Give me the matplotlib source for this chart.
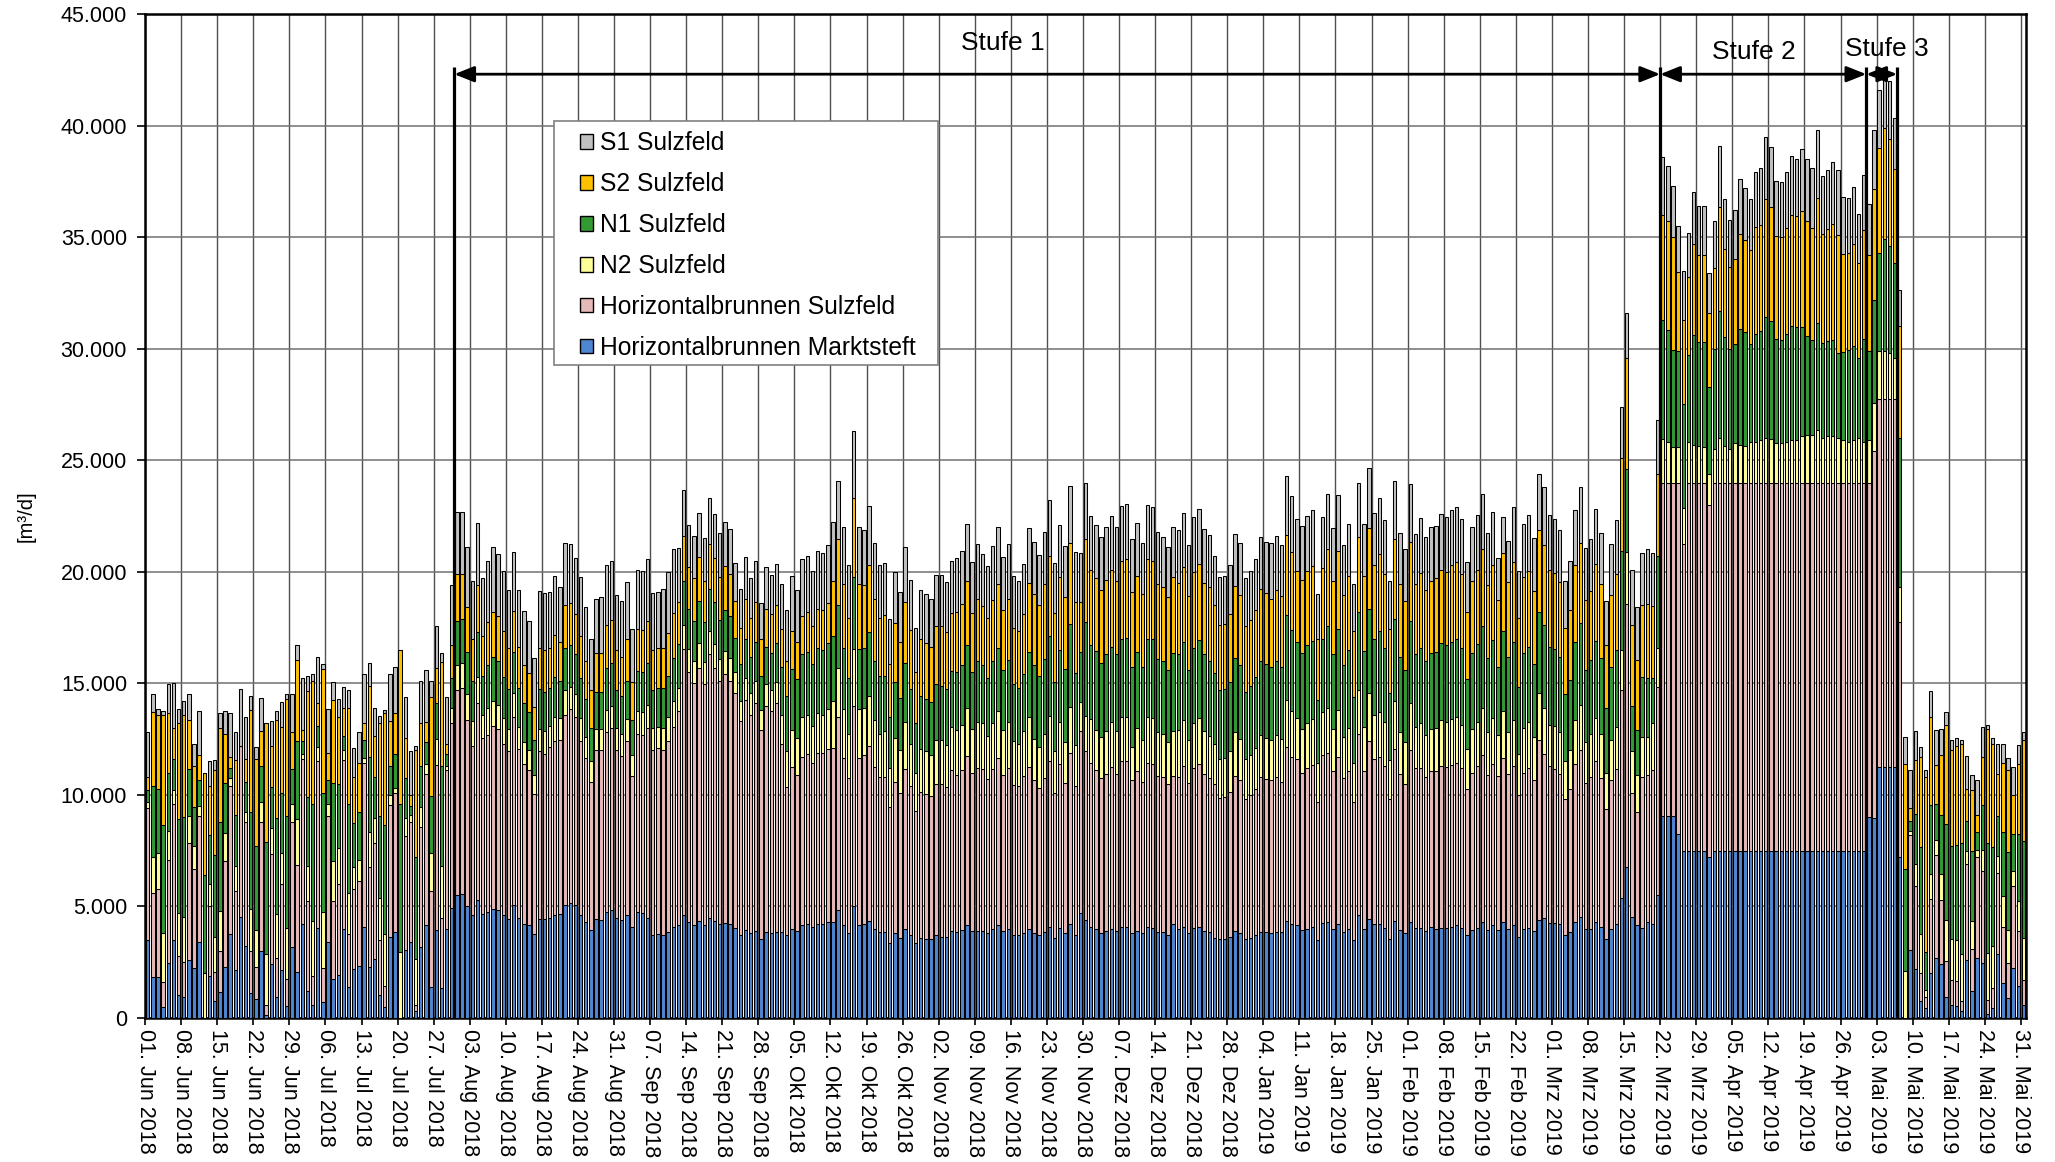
import datetime as dt
import numpy as np
import matplotlib
matplotlib.use("Agg")
import matplotlib.pyplot as plt
from matplotlib.patches import Patch, Rectangle

plt.rcParams['font.family'] = ['Liberation Sans', 'DejaVu Sans']

# ---------------- data (m³/d per day, 01.06.2018 - 31.05.2019) ----------------
start_date = dt.date(2018, 6, 1)
n_days = 365

marktsteft = [
    3500, 1850, 1850, 500, 2450, 3500, 1050, 950, 2600, 2250,
    3400, 0, 1900, 750, 1150, 2300, 3750, 2150, 4550, 3250,
    1100, 850, 3000, 150, 2400, 950, 2150, 550, 3200, 2050,
    4200, 1200, 600, 4050, 700, 3400, 1750, 1950, 4000, 1400,
    2200, 2350, 4100, 2300, 2650, 1050, 500, 3650, 3850, 0,
    3050, 3400, 300, 3200, 4150, 1400, 3950, 1350, 4000, 4950,
    5500, 5550, 5000, 4600, 5300, 4650, 4750, 4900, 4850, 4600,
    4450, 5050, 4500, 4200, 4150, 3750, 4450, 4450, 4500, 4600,
    4650, 5050, 5150, 5050, 4600, 4300, 3950, 4450, 4400, 4750,
    4850, 4500, 4400, 4600, 4100, 4750, 4700, 4500, 3700, 3750,
    3700, 3850, 4100, 4150, 4600, 4300, 4150, 4350, 4150, 4500,
    4350, 4200, 4250, 4200, 4050, 3700, 3950, 3800, 3900,
    3550, 3850, 3800, 3850, 3850, 3700, 4000, 3900, 4150, 4200,
    4100, 4200, 4200, 4300, 4300, 4850, 4150, 3800, 5000, 4150,
    4200, 4350, 4000, 3850, 3850, 3350, 3800, 3600, 4000, 3700,
    3350, 3600, 3550, 3550, 3700, 3650, 3650, 3900, 3850, 3950,
    4150, 3900, 3900, 3900, 3800, 4000, 4150, 3900, 4000, 3700,
    3700, 3800, 4000, 3800, 3700, 3850, 4100, 3600,
    4050, 3800, 4200, 3700, 4700, 4400, 4100, 4000, 3800, 3900,
    4000, 3900, 4100, 4100, 3800, 3900, 3800, 4100, 4050, 3850,
    3850, 3700, 4200, 4000, 4100, 3800, 4050, 4100, 3900,
    3850,
    3600, 3550, 3550, 3650, 3900, 3800, 3550, 3600, 3700, 3850,
    3850, 3800, 3850, 3850, 4350, 4200, 4150, 3950, 4000, 4100,
    3500, 4250, 4300, 4000, 4200, 3850, 4000, 3500, 4600,
    4000, 4450, 4200, 4200, 4050, 3550, 4350, 3950, 3800, 4300,
    4050, 4050, 3900, 4100, 4000, 4050, 4050, 4100, 4150, 4050,
    3700, 3950, 4050, 4300, 3950, 4150, 3950, 4300, 4000, 4150,
    3650, 4000, 4050, 3900, 4400, 4500, 4250, 4250, 4200, 3700,
    3850, 4300, 4550, 4000, 4000, 4300, 4100, 3550, 4000, 4200,
    5400, 6750, 4550, 4150, 4050, 4300, 4200, 5500,
    9050, 9050, 9050, 8250, 7500, 7500, 7500, 7500, 7500, 7200,
    7500, 7500, 7500, 7500, 7500, 7500, 7500, 7500, 7500, 7500,
    7500, 7500, 7500, 7500, 7500, 7500, 7500, 7500, 7500, 7500,
    7500, 7500, 7500, 7500, 7500, 7500, 7500, 7500, 7500, 7500,
    9000, 8950, 11250, 11250, 11250, 11250, 7200,
    0, 3050, 2200, 750, 450, 2000, 2700, 2400, 950, 600,
    550, 300, 2600, 1200, 2700, 2450, 200, 450, 2850, 1550,
    900, 2250, 1450, 600,
]

hb_sulzfeld = [
    5900, 3750, 3950, 1100, 4650, 6100, 1750, 1550, 5250, 4450,
    5650, 0, 3100, 1300, 1850, 4750, 6650, 3550, 7650, 5550,
    1900, 1450, 5800, 450, 4950, 1750, 3850, 1200, 5600, 4800,
    7400, 4050, 1300, 7450, 1550, 5650, 3500, 4050, 7550, 2350,
    3600, 3800, 7350, 4450, 5200, 2450, 950, 5900, 6250, 0,
    5100, 5400, 300, 5350, 6800, 4300, 7400, 3150, 7100, 8250,
    9200, 9250, 8350, 7600, 8800, 7900, 7950, 8200, 8100, 7700,
    7500, 8450, 7550, 7200, 6950, 6300, 7500, 7400, 7650, 7800,
    7800, 8550, 8700, 8450, 7800, 7350, 6650, 7550, 7600, 8050,
    8150, 7500, 7350, 7800, 6750, 8000, 8000, 8500, 8300, 8350,
    8300, 8550, 8950, 9600, 11950, 11200, 10850, 11350, 10800, 11800,
    11350, 10900, 11150, 10900, 10500, 9600, 10300, 9800, 10200,
    9350, 10150, 9950, 10250, 8450, 6650, 7250, 7000, 7550, 7650,
    7350, 7700, 7700, 7750, 7800, 8650, 7500, 6950, 9000, 7500,
    7600, 7850, 7250, 6950, 6950, 6100, 6800, 6500, 7150, 6700,
    5950, 6550, 6500, 6400, 6800, 6850, 6700, 7200, 7050, 7150,
    7600, 7100, 7300, 7250, 6900, 7150, 7500, 7000, 7200, 6750,
    6700, 7050, 7250, 6850, 6600, 6900, 7400, 6500,
    7350, 6750, 7700, 6700, 8150, 7550, 7350, 7100, 6950, 7050,
    7250, 7050, 7400, 7400, 6850, 7150, 6800, 7350, 7350, 7000,
    6950, 6800, 6650, 6800, 7200, 6750, 7150, 7300, 7050,
    6900,
    6900, 6300, 6350, 6500, 6950, 6850, 6250, 6400, 6550, 6950,
    6850, 6850, 6950, 6750, 7800, 7500, 7450, 7050, 7200, 7250,
    6200, 7550, 7600, 7050, 7500, 6900, 7050, 6200, 8150,
    7050, 7950, 7400, 7500, 7250, 6250, 7700, 7000, 6700, 7700,
    7150, 7150, 6900, 6950, 7050, 7250, 7200, 7250, 7300, 7150,
    6550, 7050, 7250, 7500, 6950, 7250, 6900, 7350, 6950, 7150,
    6350, 7000, 7150, 6750, 8050, 7350, 7050, 6900, 6750, 6100,
    6400, 7100, 7450, 6550, 6800, 7200, 6650, 5800, 6650, 6950,
    9300, 11800, 5550, 5100, 6750, 6600, 6900, 9350,
    14950, 14950, 14950, 15750, 13750, 16500, 16500, 16500, 16500, 15800,
    16500, 16500, 16500, 16500, 16500, 16500, 16500, 16500, 16500, 16500,
    16500, 16500, 16500, 16500, 16500, 16500, 16500, 16500, 16500, 16500,
    16500, 16500, 16500, 16500, 16500, 16500, 16500, 16500, 16500, 16500,
    15000, 16450, 16500, 16500, 16500, 16500, 10550,
    0, 5150, 3700, 1250, 500, 3350, 4600, 2900, 1600, 1100,
    1100, 450, 4300, 1900, 4500, 4150, 600, 900, 3650, 2550,
    1550, 3650, 2450, 1100,
]

n2_sulzfeld = [
    300, 1600, 1600, 2200, 1300, 600, 1900, 2050, 1200, 1000,
    450, 2000, 1000, 1600, 1800, 1250, 350, 1100, 0, 450,
    1900, 1650, 900, 2250, 1150, 1950, 1400, 2300, 800, 2050,
    250, 1550, 2450, 650, 2500, 550, 1800, 1600, 450, 1850,
    950, 950, 200, 1600, 1100, 1900, 2300, 450, 200, 2950,
    800, 300, 2050, 900, 450, 1700, 1150, 2300, 200, 700,
    1100, 1100, 1150, 1100, 1200, 1050, 1200, 1100, 1100, 1150,
    1000, 1050, 1000, 950, 900, 850, 1000, 1000, 950, 1100,
    1000, 1100, 1000, 1000, 1050, 950, 900, 950, 950, 1000,
    1000, 1000, 1000, 1000, 950, 1000, 1000, 1050, 1000, 950,
    1000, 1100, 1150, 1050, 1050, 1050, 1000, 1100, 1000, 1050,
    1050, 1000, 1050, 1050, 950, 900, 1000, 950, 1000,
    900, 950, 950, 950, 1300, 1600, 1650, 1650, 1800, 1750,
    1650, 1750, 1700, 1800, 2100, 2200, 2200, 2000, 2550, 2200,
    2100, 2250, 2100, 1950, 2050, 1750, 1950, 1900, 2100, 1900,
    1700, 1900, 1900, 1850, 1950, 1950, 1900, 1950, 2000, 2050,
    2150, 1950, 2050, 2050, 1950, 2050, 2100, 2000, 2050, 1950,
    1900, 2000, 2250, 1850, 1850, 2000, 2050, 1850,
    1850, 1800, 2050, 1850, 1300, 1600, 1950, 1800, 1850, 1900,
    2000, 1900, 2000, 2000, 1500, 1950, 1850, 2050, 2050, 1950,
    1950, 1850, 2000, 2100, 2050, 1900, 2000, 2050, 1900,
    1900,
    1800, 1750, 1750, 1800, 1950, 1850, 1800, 1800, 1850, 1900,
    1850, 1800, 1900, 1900, 2100, 2050, 1850, 1950, 2000, 2050,
    1750, 1900, 2000, 1900, 2100, 1850, 1950, 1750, 1950,
    2000, 2150, 2000, 2000, 1950, 1750, 2150, 1850, 1850, 2100,
    1850, 2000, 1900, 1900, 1950, 2050, 2000, 2050, 2050, 1950,
    1800, 1950, 1950, 2100, 1900, 2050, 1850, 2100, 1850, 2050,
    1850, 2000, 2050, 1950, 2100, 2050, 1850, 1950, 1850, 1700,
    1750, 1950, 2050, 1800, 1950, 1950, 2000, 1650, 1800, 1900,
    1800, 2350, 1850, 1650, 1800, 1700, 2100, 1750,
    1950, 1800, 1600, 1600, 1600, 1800, 1700, 1650, 1600, 1400,
    1500, 2000, 1650, 1500, 1750, 1700, 1650, 1800, 1800, 1900,
    2000, 1950, 1750, 1750, 1800, 1900, 1900, 2100, 2150, 2150,
    2350, 2000, 2100, 2100, 2000, 1900, 1800, 1900, 2000, 1800,
    1900, 2150, 2150, 2150, 2050, 1850, 1550,
    2100, 200, 1000, 1750, 300, 1100, 700, 1150, 1850, 1850,
    1850, 2100, 600, 1250, 350, 950, 2100, 1900, 750, 1350,
    1500, 700, 1350, 1900,
]

n1_sulzfeld = [
    500, 3200, 2850, 4850, 2600, 1400, 4200, 4450, 2100, 1750,
    1150, 4400, 2200, 3650, 4000, 2250, 450, 2300, 0, 1350,
    4350, 3750, 1600, 5050, 1850, 4300, 2700, 5000, 1550, 3500,
    550, 3100, 5250, 950, 5350, 1050, 3500, 2900, 650, 4000,
    2000, 2150, 800, 3350, 1850, 3650, 4900, 1300, 1550, 6650,
    1800, 400, 4550, 1850, 950, 2550, 1600, 4500, 550, 1350,
    2000, 2000, 1900, 1800, 2000, 1750, 1900, 2000, 1950, 1850,
    1800, 1850, 1750, 1750, 1700, 1550, 1800, 1750, 1700, 1800,
    1650, 1900, 1850, 1800, 1800, 1700, 1500, 1650, 1650, 1900,
    1900, 1700, 1700, 1700, 1550, 1800, 1800, 1850, 1700, 1750,
    1800, 1850, 1950, 1950, 2000, 1800, 1800, 1900, 1800, 1900,
    1900, 1750, 1850, 1850, 1550, 1650, 1750, 1650, 1750,
    1550, 1700, 1650, 1750, 2150, 2500, 2750, 2650, 2800, 2800,
    2750, 2950, 2900, 2950, 2900, 2800, 2750, 2500, 3200, 2700,
    2700, 2850, 2650, 2600, 2500, 2300, 2500, 2350, 2650, 2450,
    2200, 2400, 2350, 2350, 2500, 2450, 2500, 2500, 2600, 2650,
    2800, 2550, 2750, 2600, 2600, 2800, 2850, 2700, 2800, 2550,
    2500, 2550, 2900, 3300, 3200, 3350, 3550, 3100,
    3250, 3300, 3700, 3200, 2250, 4200, 3300, 3550, 3300, 3450,
    3400, 3450, 3500, 3550, 3600, 3400, 3300, 3500, 3550, 3300,
    3250, 3250, 3500, 3400, 3500, 3150, 3400, 3500, 3450,
    3350,
    3150, 3100, 3100, 3100, 3350, 3300, 3000, 3100, 3200, 3300,
    3300, 3300, 3300, 3250, 3800, 3650, 3400, 3400, 3500, 3500,
    2800, 3300, 3650, 3350, 3650, 3200, 3500, 2950, 3500,
    3400, 3800, 3400, 3650, 3350, 3000, 3700, 3400, 3250, 3700,
    3250, 3400, 3300, 3400, 3400, 3450, 3450, 3450, 3500, 3450,
    3150, 3400, 3500, 3650, 3350, 3500, 3050, 3600, 3400, 3500,
    3000, 3350, 3400, 3250, 3650, 3700, 3500, 3450, 3400, 3000,
    3150, 3500, 3650, 3250, 3300, 3450, 3400, 2900, 3300, 3450,
    4450, 3700, 2050, 2000, 2700, 2650, 2050, 4100,
    5350, 5050, 4350, 4300, 4650, 3900, 4900, 4650, 4700, 3900,
    4500, 5700, 4850, 4500, 4450, 5200, 5100, 4400, 4850, 4900,
    5400, 5300, 4700, 4650, 4850, 5100, 5050, 4850, 4400, 4250,
    4800, 4250, 4250, 4300, 3800, 3950, 4150, 4200, 3600, 4650,
    4000, 4650, 4400, 5000, 4800, 4250, 6700,
    4600, 450, 2250, 3900, 1700, 3100, 1600, 2650, 4300, 4150,
    4250, 5000, 1350, 3150, 800, 2000, 4950, 4400, 1800, 2900,
    3500, 1650, 3000, 4350,
]

s2_sulzfeld = [
    600, 3300, 3350, 4950, 2650, 1400, 4300, 4600, 2200, 1850,
    1150, 4600, 2200, 3800, 4200, 2200, 500, 2450, 0, 1000,
    4550, 3900, 1550, 5300, 1850, 4400, 2950, 5250, 1650, 3650,
    500, 4750, 5500, 1000, 5550, 1250, 3700, 3000, 1250, 4300,
    2050, 2200, 750, 3200, 1850, 4150, 5000, 2000, 1800, 6900,
    1800, 500, 4800, 1900, 900, 4450, 1600, 4650, 450, 1450,
    2100, 2000, 2000, 1900, 2100, 1750, 1950, 2000, 2000, 2050,
    1850, 1850, 1850, 1700, 1750, 1500, 1850, 1900, 1800, 1850,
    1750, 1900, 1900, 1800, 1850, 1700, 1700, 1750, 1750, 1900,
    1950, 1800, 1750, 1900, 1700, 1900, 1900, 1900, 1800, 1800,
    1800, 1900, 2000, 1900, 2000, 1850, 1900, 1950, 1850, 2000,
    1950, 1900, 1950, 1900, 1650, 1650, 1800, 1750, 1800,
    1650, 1700, 1750, 1700, 1700, 1550, 1700, 1650, 1700, 1800,
    1700, 1750, 1800, 1800, 2500, 2950, 2850, 2700, 3550, 2900,
    2800, 3000, 2800, 2600, 2700, 2350, 2650, 2500, 2750, 2650,
    2300, 2550, 2500, 2500, 2600, 2650, 2550, 2600, 2700, 2750,
    2900, 2650, 2800, 2650, 2700, 2750, 2850, 2700, 2750, 2550,
    2550, 2700, 3100, 3200, 3150, 3350, 3600, 3100,
    3250, 3200, 3650, 3200, 2250, 3700, 3400, 3250, 3300, 3350,
    3450, 3300, 3500, 3500, 3350, 3400, 3250, 3550, 3500, 3350,
    3300, 3250, 3400, 3200, 3350, 3300, 3400, 3400, 3200,
    3300,
    3050, 2900, 2900, 3050, 3200, 3150, 2950, 2950, 3000, 3250,
    3200, 3050, 3200, 3150, 3600, 3500, 3200, 3300, 3350, 3350,
    2750, 3150, 3450, 3300, 3500, 3150, 3300, 2950, 3350,
    3350, 3600, 3300, 3450, 3300, 2900, 3550, 3250, 3100, 3550,
    3150, 3350, 3200, 3250, 3300, 3300, 3300, 3450, 3450, 3300,
    3000, 3250, 3350, 3450, 3250, 3350, 3000, 3500, 3350, 3600,
    3100, 3400, 3400, 3300, 3650, 3600, 3450, 3400, 3350, 3000,
    3150, 3450, 3600, 3150, 3100, 3450, 3300, 2800, 3200, 3400,
    4150, 5000, 3600, 3150, 3200, 3300, 3200, 3700,
    4700, 4850, 5050, 3550, 3800, 3500, 4100, 3900, 3900, 3300,
    3600, 4650, 3950, 3650, 3800, 4250, 4100, 4200, 4800, 4750,
    5300, 5100, 4600, 4600, 4750, 5000, 5000, 5200, 5150, 5000,
    5600, 4900, 5000, 5200, 5300, 4400, 4350, 4600, 4250, 4850,
    4300, 4950, 4700, 5000, 4800, 4200, 5000,
    4700, 550, 2400, 4050, 7850, 3950, 1750, 2700, 4450, 4300,
    4450, 4450, 1400, 2700, 750, 2150, 5100, 4650, 1900, 3100,
    3650, 1750, 3150, 4500,
]

s1_sulzfeld = [
    2000, 800, 250, 150, 1300, 2000, 650, 600, 1150, 1000,
    1950, 0, 1100, 450, 650, 1000, 1950, 1250, 2550, 1900,
    650, 550, 1500, 0, 1100, 400, 1100, 200, 1700, 650,
    2350, 700, 300, 2100, 200, 1950, 800, 800, 950, 800,
    1300, 1350, 2200, 1000, 1250, 350, 150, 2100, 2100, 0,
    1850, 1950, 200, 1900, 2350, 700, 1850, 400, 2100, 2700,
    2800, 2800, 2700, 2600, 2800, 2600, 2750, 2900, 2800, 2700,
    2600, 2650, 2550, 2450, 2350, 2200, 2550, 2550, 2500, 2650,
    2450, 2800, 2650, 2500, 2650, 2400, 2300, 2450, 2500, 2700,
    2650, 2450, 2500, 2550, 2400, 2650, 2650, 2750, 2550, 2500,
    2650, 2750, 2850, 2400, 2050, 1900, 1900, 2000, 1900, 2050,
    2000, 2000, 2000, 2000, 1700, 1750, 1850, 1750, 1850,
    1600, 1850, 1750, 1850, 2000, 2300, 2450, 2350, 2550, 2500,
    2500, 2600, 2550, 2600, 2650, 2600, 2550, 2350, 3000, 2550,
    2450, 2650, 2500, 2350, 2350, 2050, 2300, 2250, 2450, 2250,
    2000, 2200, 2200, 2150, 2300, 2300, 2250, 2350, 2400, 2400,
    2550, 2300, 2450, 2350, 2300, 2400, 2550, 2350, 2450, 2300,
    2250, 2250, 2450, 2350, 2250, 2350, 2500, 2250,
    2350, 2300, 2550, 2250, 2200, 2550, 2400, 2400, 2350, 2350,
    2400, 2400, 2450, 2500, 2350, 2400, 2300, 2450, 2400, 2350,
    2250, 2250, 2250, 2350, 2450, 2300, 2450, 2450, 2400,
    2350,
    2200, 2150, 2150, 2200, 2350, 2350, 2150, 2200, 2250, 2300,
    2300, 2500, 2400, 2300, 2650, 2500, 2300, 2400, 2450, 2500,
    2000, 2300, 2500, 2350, 2500, 2250, 2350, 2100, 2450,
    2350, 2700, 2350, 2500, 2400, 2150, 2600, 2300, 2300, 2600,
    2250, 2450, 2350, 2400, 2350, 2500, 2450, 2450, 2450, 2450,
    2250, 2400, 2450, 2500, 2350, 2400, 1850, 1600, 1850, 2450,
    2100, 2400, 2500, 2350, 2550, 2600, 2450, 2400, 2300, 2100,
    2200, 2450, 2500, 2300, 2300, 2450, 2300, 2000, 2300, 2400,
    2300, 2000, 2500, 2350, 2350, 2450, 2400, 2400,
    2600, 2500, 2300, 2050, 2200, 2000, 2300, 2200, 2200, 1800,
    2100, 2750, 2250, 2100, 2200, 2450, 2350, 2300, 2450, 2550,
    2800, 2700, 2450, 2450, 2500, 2650, 2550, 2800, 2800, 2700,
    3050, 2600, 2650, 2750, 2900, 2550, 2450, 2550, 2200, 2500,
    2300, 2650, 2600, 2600, 2600, 2300, 1650,
    1200, 1700, 1300, 450, 300, 1150, 1550, 1150, 550, 450,
    350, 150, 1500, 700, 1550, 1350, 200, 250, 1350, 850,
    550, 1250, 850, 350,
]

series_names = ["S1 Sulzfeld", "S2 Sulzfeld", "N1 Sulzfeld", "N2 Sulzfeld",
                "Horizontalbrunnen Sulzfeld", "Horizontalbrunnen Marktsteft"]
series_colors = ["#C0C0C0", "#FFC000", "#339933", "#FFFF99", "#E6B9B8", "#4F86D2"]

y_ticks = [0, 5000, 10000, 15000, 20000, 25000, 30000, 35000, 40000, 45000]
y_tick_labels = ["0", "5.000", "10.000", "15.000", "20.000", "25.000",
                 "30.000", "35.000", "40.000", "45.000"]
month_names = ["Jan", "Feb", "Mrz", "Apr", "Mai", "Jun", "Jul", "Aug",
               "Sep", "Okt", "Nov", "Dez"]

# phase boundaries (day index) and labels
stufe_bounds = [60, 294, 334, 340]
stufe_labels = ["Stufe 1", "Stufe 2", "Stufe 3"]

# ---------------- figure ----------------
fig = plt.figure(figsize=(20.55, 11.62), dpi=100)
ax = fig.add_axes([0.0706, 0.1239, 0.9153, 0.8641])

x = np.arange(n_days) + 0.5
stack = [marktsteft, hb_sulzfeld, n2_sulzfeld, n1_sulzfeld, s2_sulzfeld, s1_sulzfeld]
stack_colors = series_colors[::-1]
bottom = np.zeros(n_days)
for vals, col in zip(stack, stack_colors):
    v = np.array(vals, dtype=float)
    ax.bar(x, v, width=0.66, bottom=bottom, color=col, edgecolor="black",
           linewidth=0.75, zorder=3)
    bottom += v

ax.set_xlim(0, n_days)
ax.set_ylim(0, 45000)

tick_pos = list(range(0, n_days, 7))
tick_lbl = []
for p in tick_pos:
    d = start_date + dt.timedelta(days=p)
    tick_lbl.append(f"{d.day:02d}. {month_names[d.month - 1]} {d.year}")
ax.set_xticks(tick_pos)
ax.set_xticklabels(tick_lbl, rotation=-90, fontsize=15.5, va="top", ha="center")
ax.set_yticks(y_ticks)
ax.set_yticklabels(y_tick_labels, fontsize=15.5)
ax.tick_params(axis="x", direction="out", length=5, width=1.2, pad=3)
ax.tick_params(axis="y", direction="out", length=6, width=1.2, pad=7)

ax.set_axisbelow(True)
ax.yaxis.grid(True, color="#707070", linewidth=1.1)
ax.xaxis.grid(True, color="#505050", linewidth=1.0)
for sp in ax.spines.values():
    sp.set_linewidth(1.8)
    sp.set_color("black")

ax.set_ylabel("[m³/d]", fontsize=14.5, labelpad=18)

# legend: frame drawn separately so that the padding can match the original
frame = Rectangle((0.2174, 0.6507), 0.2042, 0.2424, transform=ax.transAxes,
                  facecolor="white", edgecolor="#808080", linewidth=1.2, zorder=6)
ax.add_patch(frame)
leg_handles = [Patch(facecolor=c, edgecolor="black", linewidth=1.0)
               for c in series_colors]
leg = ax.legend(leg_handles, series_names, loc="upper left",
                bbox_to_anchor=(0.2310, 0.8835), fontsize=17.7,
                frameon=False, handlelength=0.55, handleheight=0.55,
                handletextpad=0.3, labelspacing=0.69, borderpad=0,
                borderaxespad=0)
leg.set_zorder(7)

# phase markers
line_top = 42600
arrow_y = 42300
for b in stufe_bounds:
    ax.plot([b, b], [0, line_top], color="black", linewidth=2.3, zorder=7,
            solid_capstyle="butt")
for i in range(3):
    ax.annotate("", xy=(stufe_bounds[i + 1], arrow_y), xytext=(stufe_bounds[i], arrow_y),
                arrowprops=dict(arrowstyle="<|-|>,head_length=0.6,head_width=0.24",
                                color="black", lw=2.0, shrinkA=0, shrinkB=0,
                                mutation_scale=20),
                zorder=8)
ax.text(166.5, 43700, stufe_labels[0], fontsize=19, ha="center", va="center", zorder=8)
ax.text(312.2, 43300, stufe_labels[1], fontsize=19, ha="center", va="center", zorder=8)
ax.text(337.9, 43450, stufe_labels[2], fontsize=19, ha="center", va="center", zorder=8)

fig.savefig("out.png", dpi=100)
